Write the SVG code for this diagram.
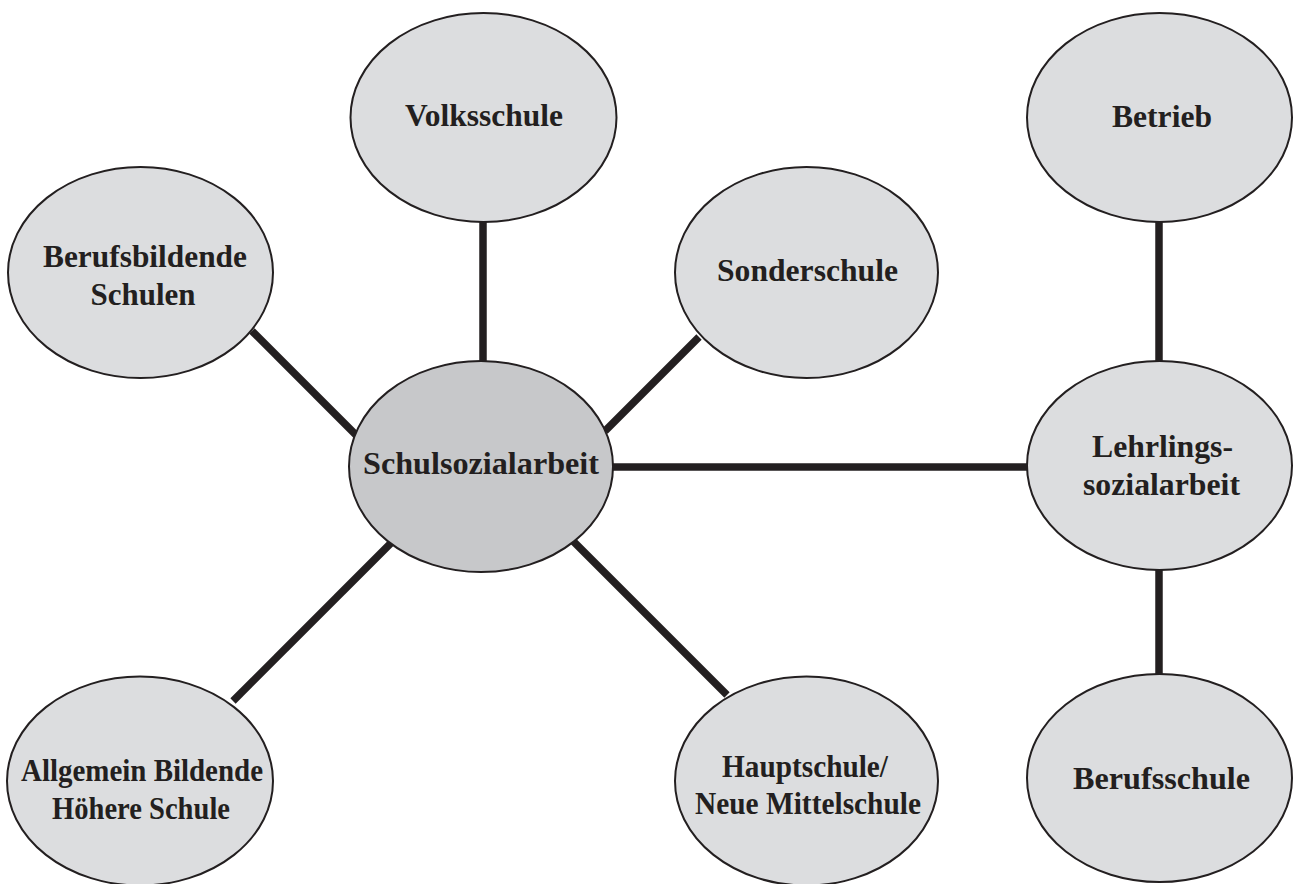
<svg xmlns="http://www.w3.org/2000/svg" width="1294" height="884" viewBox="0 0 1294 884">
  <style>
    .node { fill: #dcdddf; stroke: #231f20; stroke-width: 2; }
    .hub { fill: #c7c8ca; stroke: #231f20; stroke-width: 2; }
    .label { font-family: "Liberation Serif", "Times New Roman", serif; font-weight: bold; font-size: 32px; fill: #231f20; text-anchor: middle; }
    .link { stroke: #231f20; stroke-width: 7.5; fill: none; }
  </style>
  <rect width="1294" height="884" fill="#ffffff"/>

  <!-- connectors -->
  <g id="connectors">
    <line class="link" x1="483" y1="222" x2="483" y2="362"/>
    <line class="link" x1="252" y1="331" x2="356" y2="435"/>
    <line class="link" x1="699" y1="337" x2="605" y2="431"/>
    <line class="link" x1="392" y1="542" x2="233" y2="701"/>
    <line class="link" x1="572" y1="540" x2="727" y2="695"/>
    <line class="link" x1="612" y1="467" x2="1028" y2="467"/>
    <line class="link" x1="1159" y1="222" x2="1159" y2="362"/>
    <line class="link" x1="1159" y1="569" x2="1159" y2="675"/>
  </g>

  <g id="volksschule">
    <ellipse class="node" cx="483.5" cy="117.5" rx="133" ry="104.5"/>
    <text class="label" x="484" y="126" textLength="158" lengthAdjust="spacingAndGlyphs">Volksschule</text>
  </g>

  <g id="betrieb">
    <ellipse class="node" cx="1159.5" cy="117.5" rx="132.5" ry="104.5"/>
    <text class="label" x="1162" y="127" textLength="100" lengthAdjust="spacingAndGlyphs">Betrieb</text>
  </g>

  <g id="berufsbildende-schulen">
    <ellipse class="node" cx="140.5" cy="272.5" rx="132.5" ry="105.5"/>
    <text class="label" x="145" y="267" textLength="204" lengthAdjust="spacingAndGlyphs">Berufsbildende</text>
    <text class="label" x="143" y="305" textLength="105" lengthAdjust="spacingAndGlyphs">Schulen</text>
  </g>

  <g id="sonderschule">
    <ellipse class="node" cx="806.5" cy="272.5" rx="131.5" ry="105.5"/>
    <text class="label" x="807.5" y="281" textLength="181" lengthAdjust="spacingAndGlyphs">Sonderschule</text>
  </g>

  <g id="schulsozialarbeit">
    <ellipse class="hub" cx="481" cy="466.5" rx="132" ry="105.5"/>
    <text class="label" x="481" y="474" textLength="236" lengthAdjust="spacingAndGlyphs">Schulsozialarbeit</text>
  </g>

  <g id="lehrlingssozialarbeit">
    <ellipse class="node" cx="1159.5" cy="465.5" rx="132.5" ry="104.5"/>
    <text class="label" x="1162.5" y="457" textLength="141" lengthAdjust="spacingAndGlyphs">Lehrlings-</text>
    <text class="label" x="1161.5" y="495" textLength="157" lengthAdjust="spacingAndGlyphs">sozialarbeit</text>
  </g>

  <g id="allgemein-bildende-hoehere-schule">
    <ellipse class="node" cx="140" cy="781" rx="133" ry="104.5"/>
    <text class="label" x="142" y="781" textLength="242" lengthAdjust="spacingAndGlyphs">Allgemein Bildende</text>
    <text class="label" x="141" y="819" textLength="178" lengthAdjust="spacingAndGlyphs">Höhere Schule</text>
  </g>

  <g id="hauptschule-nms">
    <ellipse class="node" cx="806.5" cy="781" rx="131.5" ry="104.5"/>
    <text class="label" x="805" y="777" textLength="166" lengthAdjust="spacingAndGlyphs">Hauptschule/</text>
    <text class="label" x="808" y="814" textLength="226" lengthAdjust="spacingAndGlyphs">Neue Mittelschule</text>
  </g>

  <g id="berufsschule">
    <ellipse class="node" cx="1159.5" cy="778" rx="132.5" ry="104"/>
    <text class="label" x="1161.5" y="789" textLength="177" lengthAdjust="spacingAndGlyphs">Berufsschule</text>
  </g>
</svg>
